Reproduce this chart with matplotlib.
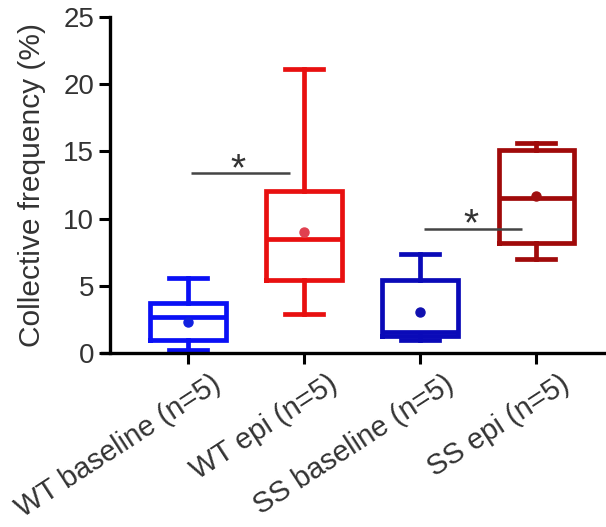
import matplotlib
matplotlib.use("Agg")
import matplotlib.pyplot as plt

plt.rcParams['font.family'] = ['Liberation Sans', 'DejaVu Sans']

categories = ["WT baseline (n=5)", "WT epi (n=5)", "SS baseline (n=5)", "SS epi (n=5)"]
whis_lo = [0.25, 2.87, 0.94, 6.98]
q1 = [0.94, 5.45, 1.24, 8.17]
median = [2.67, 8.5, 1.55, 11.5]
q3 = [3.71, 12.05, 5.4, 15.1]
whis_hi = [5.57, 21.1, 7.35, 15.64]
means = [2.28, 9.03, 3.04, 11.7]
colors = ["#0A10F5", "#E81010", "#0A0AB8", "#A00A0A"]
mean_colors = ["#1020E0", "#E04050", "#1010B0", "#A01010"]

# significance bars
sig_x0 = [0.03, 2.03]
sig_x1 = [0.88, 2.88]
sig_y = [13.37, 9.25]

fig = plt.figure(figsize=(6.06, 5.27), dpi=100)
ax = fig.add_axes([102 / 606, 0.330, 1 - 102 / 606, 0.638])

for i in range(len(categories)):
    st = [dict(whislo=whis_lo[i], q1=q1[i], med=median[i], q3=q3[i],
               whishi=whis_hi[i], mean=means[i], fliers=[])]
    c = colors[i]
    lp = dict(color=c, linewidth=3.4)
    ax.bxp(st, positions=[i], widths=0.65, showmeans=True, patch_artist=False,
           boxprops=dict(color=c, linewidth=3.4, solid_joinstyle='miter'),
           whiskerprops=lp, capprops=lp, medianprops=dict(color=c, linewidth=3.4),
           meanprops=dict(marker='o', markerfacecolor=mean_colors[i],
                          markeredgecolor=mean_colors[i], markersize=6.5),
           capwidths=0.33, manage_ticks=False)

for x0, x1, y in zip(sig_x0, sig_x1, sig_y):
    ax.plot([x0, x1], [y, y], color="#444444", linewidth=1.8, solid_capstyle='butt')
    ax.annotate("*", xy=((x0 + x1) / 2 - 0.02, y), xycoords='data',
                xytext=(0, -7), textcoords='offset pixels',
                ha='center', va='baseline', fontsize=28, color="#333333")

ax.set_xlim(-0.74, 3.6)
ax.set_ylim(0, 25)
ax.spines['left'].set_position(('data', -0.67))
ax.set_yticks([0, 5, 10, 15, 20, 25])
ax.set_xticks(range(len(categories)))
ax.set_xticklabels([])
for i, cat in enumerate(categories):
    ax.annotate(cat, xy=(i, 0), xycoords=('data', 'axes fraction'),
                xytext=(23, -17), textcoords='offset pixels',
                rotation=33, ha='right', va='top', rotation_mode='anchor',
                fontsize=21, color="#333333", annotation_clip=False)
ax.tick_params(axis='y', labelsize=20, labelcolor="#333333", width=2.2, length=8, color='black')
ax.tick_params(axis='x', width=2.2, length=8, color='black')
ax.set_ylabel("Collective frequency (%)", fontsize=21.5, color="#333333", labelpad=12)

for s in ['top', 'right']:
    ax.spines[s].set_visible(False)
for s in ['left', 'bottom']:
    ax.spines[s].set_linewidth(2.4)
    ax.spines[s].set_color('black')
ax.spines['left'].set_bounds(0, 25)

fig.savefig("out.png", dpi=100)
